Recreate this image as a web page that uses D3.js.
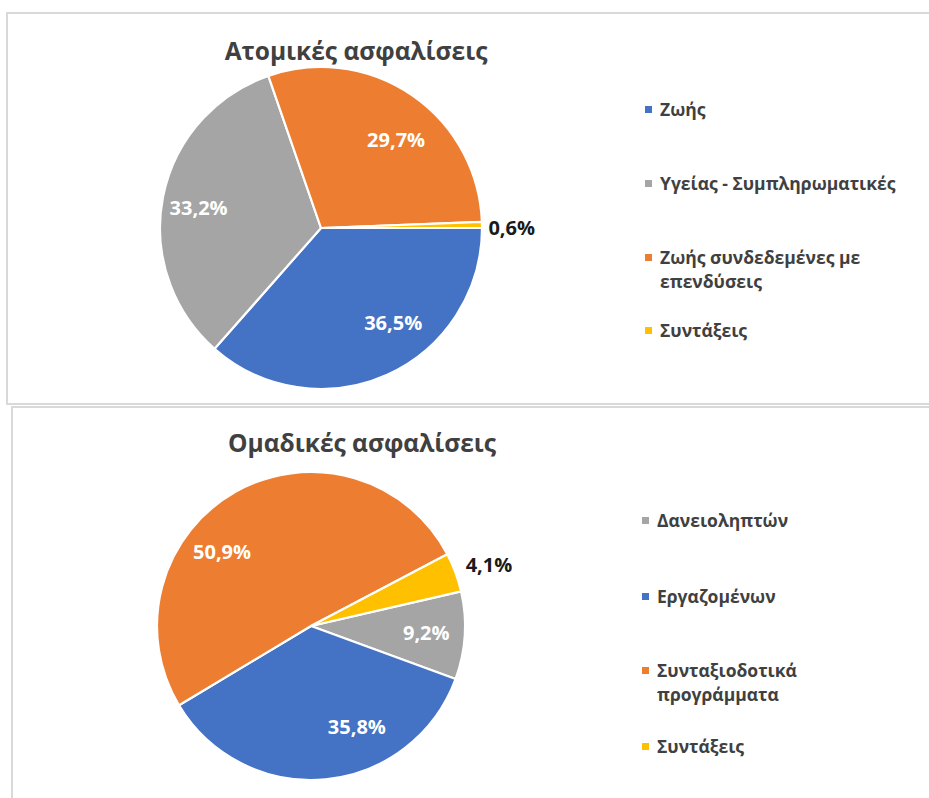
<!DOCTYPE html>
<html>
<head>
<meta charset="utf-8">
<script src="https://cdn.jsdelivr.net/npm/d3@7"></script>
<style>
  html, body { margin: 0; padding: 0; background: #ffffff; overflow: hidden; }
  svg { display: block; }
  text { font-family: "Open Sans", "Noto Sans", sans-serif; }
</style>
</head>
<body>
<svg id="chart" width="929" height="798"></svg>
<script>
// ---------- Data ----------
const titleTop = "Ατομικές ασφαλίσεις";
const categoriesTop = ["Ζωής", "Υγείας - Συμπληρωματικές", "Ζωής συνδεδεμένες με επενδύσεις", "Συντάξεις"];
const legendLinesTop = [["Ζωής"], ["Υγείας - Συμπληρωματικές"], ["Ζωής συνδεδεμένες με", "επενδύσεις"], ["Συντάξεις"]];
const valuesTop = [36.5, 33.2, 29.7, 0.6];

const titleBottom = "Ομαδικές ασφαλίσεις";
const categoriesBottom = ["Δανειοληπτών", "Εργαζομένων", "Συνταξιοδοτικά προγράμματα", "Συντάξεις"];
const legendLinesBottom = [["Δανειοληπτών"], ["Εργαζομένων"], ["Συνταξιοδοτικά", "προγράμματα"], ["Συντάξεις"]];
const valuesBottom = [9.2, 35.8, 50.9, 4.1];

const colorsTop = ["#4472C4", "#A5A5A5", "#ED7D31", "#FFC000"];
const colorsBottom = ["#A5A5A5", "#4472C4", "#ED7D31", "#FFC000"];

// ---------- Drawing ----------
const svg = d3.select("#chart");
const fmt = v => d3.format(".1f")(v).replace(".", ",") + "%";

function drawPanel(cfg) {
  const g = svg.append("g");
  // panel border
  g.append("rect")
    .attr("x", cfg.box[0]).attr("y", cfg.box[1])
    .attr("width", cfg.box[2]).attr("height", cfg.box[3])
    .attr("fill", "#ffffff").attr("stroke", "#d9d9d9").attr("stroke-width", 2);

  g.append("text")
    .attr("x", cfg.titleX).attr("y", cfg.titleY)
    .attr("text-anchor", "middle")
    .attr("font-size", 24.5).attr("font-weight", 700)
    .attr("fill", "#404040")
    .text(cfg.title);

  const data = cfg.values.map((v, i) => ({ cat: cfg.categories[i], value: v, color: cfg.colors[i], idx: i }));
  const pie = d3.pie().sort(null).value(d => d.value)
    .startAngle(cfg.startDeg * Math.PI / 180)
    .endAngle(cfg.startDeg * Math.PI / 180 + 2 * Math.PI);
  const arcs = pie(data);
  const arc = d3.arc().innerRadius(0).outerRadius(cfg.r);

  const pg = g.append("g").attr("transform", `translate(${cfg.cx},${cfg.cy})`);
  pg.selectAll("path").data(arcs).join("path")
    .attr("d", arc)
    .attr("fill", d => d.data.color)
    .attr("stroke", "#ffffff").attr("stroke-width", 2.2).attr("stroke-linejoin", "round");

  // labels
  arcs.forEach((a, i) => {
    const lc = cfg.labelCfg[i];
    const mid = (a.startAngle + a.endAngle) / 2 + (lc.dAng || 0) * Math.PI / 180;
    const rr = cfg.r * lc.k;
    const x = Math.sin(mid) * rr;
    const y = -Math.cos(mid) * rr;
    pg.append("text")
      .attr("x", x).attr("y", y)
      .attr("dy", "0.35em")
      .attr("text-anchor", lc.outside ? "start" : "middle")
      .attr("font-size", 20).attr("font-weight", 700)
      .attr("fill", lc.outside ? "#1a1a1a" : "#ffffff")
      .text(fmt(a.data.value));
  });

  // legend
  const lg = g.append("g");
  cfg.legendLines.forEach((lines, i) => {
    const y0 = cfg.legendY[i];
    lg.append("rect")
      .attr("x", cfg.legendX).attr("y", y0 - 4)
      .attr("width", 7).attr("height", 7)
      .attr("fill", cfg.colors[i]);
    lines.forEach((ln, j) => {
      lg.append("text")
        .attr("x", cfg.legendX + 15).attr("y", y0 + j * 24)
        .attr("dy", "0.35em")
        .attr("font-size", 17.5).attr("font-weight", 700)
        .attr("fill", "#404040")
        .text(ln);
    });
  });
}

drawPanel({
  box: [7, 13, 960, 391],
  title: titleTop, titleX: 356, titleY: 60,
  categories: categoriesTop, values: valuesTop, colors: colorsTop,
  legendLines: legendLinesTop,
  cx: 321, cy: 228, r: 161, startDeg: 90,
  labelCfg: [{k: 0.74, dAng: -13}, {k: 0.77, dAng: -2}, {k: 0.72, dAng: 6}, {k: 1.04, outside: true, dAng: 1.1}],
  legendX: 645, legendY: [110, 184, 258, 331]
});

drawPanel({
  box: [12, 407, 960, 420],
  title: titleBottom, titleX: 362, titleY: 452,
  categories: categoriesBottom, values: valuesBottom, colors: colorsBottom,
  legendLines: legendLinesBottom,
  cx: 311, cy: 626, r: 154, startDeg: 77,
  labelCfg: [{k: 0.75, dAng: 0}, {k: 0.72, dAng: -19}, {k: 0.75, dAng: -21}, {k: 1.08, outside: true, dAng: -1.2}],
  legendX: 642, legendY: [521, 597, 671, 747]
});
</script>
</body>
</html>
